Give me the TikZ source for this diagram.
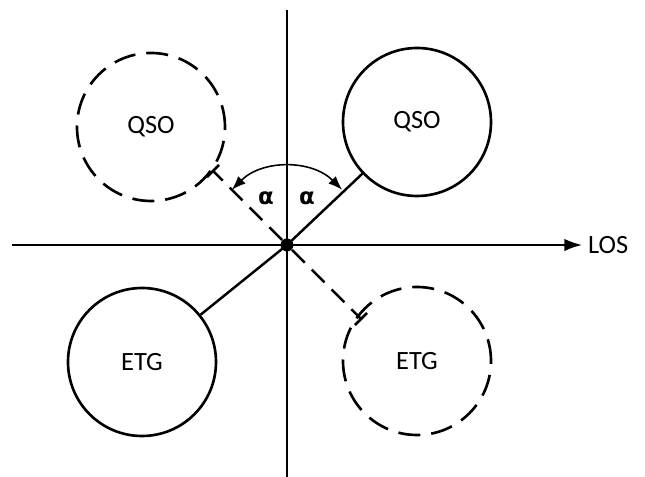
\documentclass[tikz,border=0pt]{standalone}
\usepackage{fontspec}
\setmainfont{Carlito}
\newfontfamily\alphafont{DejaVu Sans}
\usetikzlibrary{arrows.meta,calc}
\tikzset{
  obj/.style={circle, draw, line width=1.5pt, minimum size=2.96cm, inner sep=0pt, font=\fontsize{15}{18}\selectfont},
  ghost/.style={obj, dash pattern=on 0.44cm off 0.22cm},
  axis/.style={line width=1pt},
  link/.style={line width=1.4pt},
  ghostlink/.style={line width=1.4pt, dash pattern=on 0.36cm off 0.2cm, -{Bar[width=0.34cm,line width=1.5pt]}},
  anglab/.style={font=\alphafont\bfseries\fontsize{13}{15}\selectfont, inner sep=0pt}
}
\begin{document}
\begin{tikzpicture}
\useasboundingbox (-5.74,-4.64) rectangle (7.16,4.9);
% axes
\coordinate (vt) at (0,4.7);
\coordinate (vb) at (0,-4.64);
\coordinate (hl) at (-5.5,0);
\coordinate (hr) at (5.9,0);
\draw[axis] (vt) -- (vb);
\draw[axis, -{Latex[length=10pt,width=7pt]}] (hl) -- (hr);
\node[font=\fontsize{15}{18}\selectfont, anchor=west, inner sep=1pt] (los) at (5.98,0) {LOS};
% origin dot
\node[circle, fill, inner sep=0pt, minimum size=0.26cm] (o) at (0,0) {};
% objects
\node[obj]   (qso)  at (2.6,2.46)   {QSO};
\node[ghost] (qsog) at (-2.72,2.36) {QSO};
\node[obj]   (etg)  at (-2.9,-2.34) {ETG};
\node[ghost] (etgg) at (2.6,-2.32)  {ETG};
% links
\draw[link] (o.center) -- (qso);
\draw[link] (o.center) -- (etg);
\coordinate (gq) at (135:2.12);
\coordinate (ge) at (-45:2.12);
\draw[ghostlink] ($(o.center)!0.14cm!(gq)$) -- (gq);
\draw[ghostlink] ($(o.center)!0.14cm!(ge)$) -- (ge);
% angle arc
\coordinate (a1) at (135:1.56);
\coordinate (a2) at (45:1.56);
\draw[line width=0.9pt, {Latex[length=8pt,width=6pt]}-{Latex[length=8pt,width=6pt]}] (a1) arc[start angle=135, end angle=45, radius=1.56];
\node[anglab] (al1) at (-0.42,0.94) {α};
\node[anglab] (al2) at (0.4,0.94) {α};
\end{tikzpicture}
\end{document}
